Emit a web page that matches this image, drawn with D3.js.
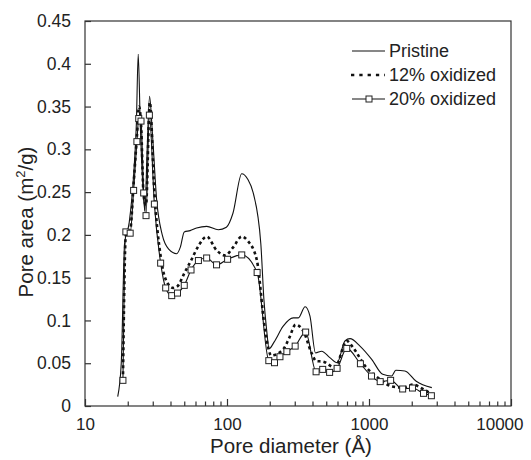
<!DOCTYPE html>
<html lang="en">
<meta charset="utf-8">
<head>
    <script src='https://d3js.org/d3.v7.min.js'></script>
    <style>
        body { margin: 0; background: #fff; }
        text { font-family: "Liberation Sans", Arial, sans-serif; fill: #222; }
    </style>
</head>
<body>
</body>

<script>
    var width = 531, height = 460;

    // Pristine (solid line)
    var pristineD = [17.0, 18.0, 19.0, 20.5, 22.0, 23.0, 23.7, 24.5, 25.5, 26.4, 27.4, 28.5, 29.8, 32.0, 35.0, 39.0,
        44.2, 47.0, 50.0, 55.0, 61.0, 72.0, 86.8, 99.0, 110, 127, 140, 153, 173, 182, 190, 198, 215, 248, 293, 318,
        355, 384, 420, 464, 530, 597, 677, 735, 864, 1045, 1250, 1440, 1545, 1790, 2150, 2770];
    var pristineV = [0.011, 0.05, 0.19, 0.215, 0.27, 0.33, 0.411, 0.33, 0.26, 0.228, 0.30, 0.362, 0.32, 0.24, 0.20, 0.183,
        0.178, 0.186, 0.2035, 0.205, 0.208, 0.210, 0.206, 0.209, 0.225, 0.2715, 0.265, 0.249, 0.19, 0.124, 0.0895, 0.067, 0.075, 0.093, 0.103, 0.103,
        0.116, 0.105, 0.062, 0.064, 0.0565, 0.0506, 0.076, 0.0787, 0.070, 0.0545, 0.037, 0.035, 0.0417, 0.041, 0.029, 0.0215];

    // 12% oxidized (dotted line)
    var ox12D = [18.5, 19.4, 20.8, 22.0, 23.2, 24.0, 24.8, 25.9, 26.9, 28.6, 30.8, 34.1, 37.0, 41.8, 44.8, 50.0,
        55.8, 62.9, 72.0, 84.4, 97.0, 110, 127, 140, 162, 185, 205, 248, 275, 304, 345, 394, 425, 472, 575, 698,
        775, 936, 1200, 1440, 1745, 2040, 2420, 2770];
    var ox12V = [0.030, 0.20, 0.205, 0.26, 0.315, 0.35, 0.33, 0.245, 0.235, 0.355, 0.25, 0.175, 0.148, 0.138, 0.140, 0.155,
        0.170, 0.187, 0.198, 0.182, 0.176, 0.185, 0.198, 0.193, 0.171, 0.09, 0.059, 0.066, 0.08, 0.095, 0.0875, 0.062, 0.0525, 0.052, 0.045, 0.076,
        0.068, 0.047, 0.031, 0.023, 0.0215, 0.025, 0.0195, 0.0137];

    // 20% oxidized (line + open squares)
    var ox20D = [18.5, 19.4, 20.8, 22.0, 23.2, 23.9, 24.8, 25.9, 26.9, 28.4, 30.8, 34.1, 37.0, 40.8, 44.8, 50.0,
        55.8, 62.9, 71.9, 84.4, 101, 127, 163, 197, 216, 236, 264, 302, 358, 424, 472, 528, 596, 697,
        870, 1041, 1199, 1420, 1726, 2024, 2420, 2750];
    var ox20V = [0.030, 0.2035, 0.202, 0.252, 0.309, 0.336, 0.333, 0.249, 0.2225, 0.340, 0.236, 0.167, 0.138, 0.129, 0.132, 0.141,
        0.159, 0.170, 0.173, 0.165, 0.1715, 0.1766, 0.156, 0.053, 0.0506, 0.0576, 0.0635, 0.070, 0.0864, 0.040, 0.0428, 0.0393, 0.044, 0.0673,
        0.0494, 0.035, 0.0285, 0.030, 0.0199, 0.021, 0.0148, 0.012];

    var xTicks = [10, 100, 1000, 10000];
    var yTicks = [0, 0.05, 0.1, 0.15, 0.2, 0.25, 0.3, 0.35, 0.4, 0.45];
    var seriesNames = ['Pristine', '12% oxidized', '20% oxidized'];

    var margin = {left: 85, right: 20, top: 21, bottom: 54};

    var svg = d3.select('body').append('svg').attr('width', width).attr('height', height);

    var x = d3.scaleLog().domain([10, 10000]).range([margin.left, width - margin.right]);
    var y = d3.scaleLinear().domain([0, 0.45]).range([height - margin.bottom, margin.top]);

    function zipD(ds, vs) {
        return ds.map(function(d, i) { return {d: d, v: vs[i]}; });
    }
    var pristine = zipD(pristineD, pristineV);
    var ox12 = zipD(ox12D, ox12V);
    var ox20 = zipD(ox20D, ox20V);

    var line = d3.line()
        .x(function(p) { return x(p.d); })
        .y(function(p) { return y(p.v); })
        .curve(d3.curveMonotoneX);

    // frame
    svg.append('rect')
        .attr('x', x(10)).attr('y', y(0.45))
        .attr('width', x(10000) - x(10)).attr('height', y(0) - y(0.45))
        .attr('fill', 'none').attr('stroke', '#333').attr('stroke-width', 1.2);

    // x axis: major + minor ticks pointing inward
    var minor = [];
    [10, 100, 1000].forEach(function(dec) {
        for (var k = 2; k <= 9; k++) minor.push(dec * k);
    });
    var xg = svg.append('g').attr('transform', 'translate(0,' + y(0) + ')');
    xg.call(d3.axisBottom(x).tickValues(minor).tickSize(-4.5).tickFormat(''));
    xg.append('g').call(d3.axisBottom(x).tickValues(xTicks).tickSize(-7).tickPadding(12).tickFormat(d3.format('d')));
    xg.selectAll('.domain').remove();
    xg.selectAll('line').attr('stroke', '#333').attr('stroke-width', 1.2);
    xg.selectAll('text').attr('font-size', 17).attr('fill', '#222').attr('font-family', '"Liberation Sans", Arial, sans-serif');
    // last label sits inside the page edge
    xg.selectAll('text').filter(function(d) { return d === 10000; })
        .attr('text-anchor', 'end').attr('x', 12);

    var yg = svg.append('g').attr('transform', 'translate(' + x(10) + ',0)');
    yg.call(d3.axisLeft(y).tickValues(yTicks).tickSize(-6).tickPadding(14).tickFormat(function(v) { return String(+v.toFixed(2)); }));
    yg.selectAll('.domain').remove();
    yg.selectAll('line').attr('stroke', '#333').attr('stroke-width', 1.2);
    yg.selectAll('text').attr('font-size', 17.5).attr('fill', '#222').attr('font-family', '"Liberation Sans", Arial, sans-serif');

    // series
    svg.append('path').datum(pristine).attr('d', line)
        .attr('fill', 'none').attr('stroke', '#111').attr('stroke-width', 1.1);
    svg.append('path').datum(ox12).attr('d', line)
        .attr('fill', 'none').attr('stroke', '#111').attr('stroke-width', 2.6).attr('stroke-dasharray', '3,3');
    svg.append('path').datum(ox20).attr('d', line)
        .attr('fill', 'none').attr('stroke', '#111').attr('stroke-width', 1.1);
    svg.selectAll('rect.mk').data(ox20).join('rect').attr('class', 'mk')
        .attr('x', function(p) { return x(p.d) - 3; })
        .attr('y', function(p) { return y(p.v) - 3; })
        .attr('width', 6).attr('height', 6)
        .attr('fill', '#fff').attr('stroke', '#222').attr('stroke-width', 1);

    // legend
    var lg = svg.append('g').attr('transform', 'translate(352,51)');
    seriesNames.forEach(function(name, i) {
        var row = lg.append('g').attr('transform', 'translate(0,' + (i * 24) + ')');
        var seg = row.append('line').attr('x1', 0).attr('x2', 33).attr('y1', 0).attr('y2', 0).attr('stroke', '#111');
        if (i === 0) seg.attr('stroke-width', 1.1);
        if (i === 1) seg.attr('stroke-width', 2.6).attr('stroke-dasharray', '3.3,5').attr('x1', -1);
        if (i === 2) {
            seg.attr('stroke-width', 1.1);
            row.append('rect').attr('x', 14).attr('y', -3).attr('width', 6).attr('height', 6)
                .attr('fill', '#fff').attr('stroke', '#222').attr('stroke-width', 1);
        }
        row.append('text').attr('x', 37).attr('y', 6).attr('font-size', 18).text(name);
    });

    // axis titles
    svg.append('text').attr('x', 291).attr('y', 453).attr('text-anchor', 'middle').attr('font-size', 20.5)
        .text('Pore diameter (\u00c5)');
    var yt = svg.append('text').attr('transform', 'translate(33,222) rotate(-90)').attr('text-anchor', 'middle').attr('font-size', 20.5);
    yt.append('tspan').text('Pore area (m');
    yt.append('tspan').attr('dy', -8).attr('font-size', 13).text('2');
    yt.append('tspan').attr('dy', 8).text('/g)');

    console.log('ready..');
</script>
</html>
